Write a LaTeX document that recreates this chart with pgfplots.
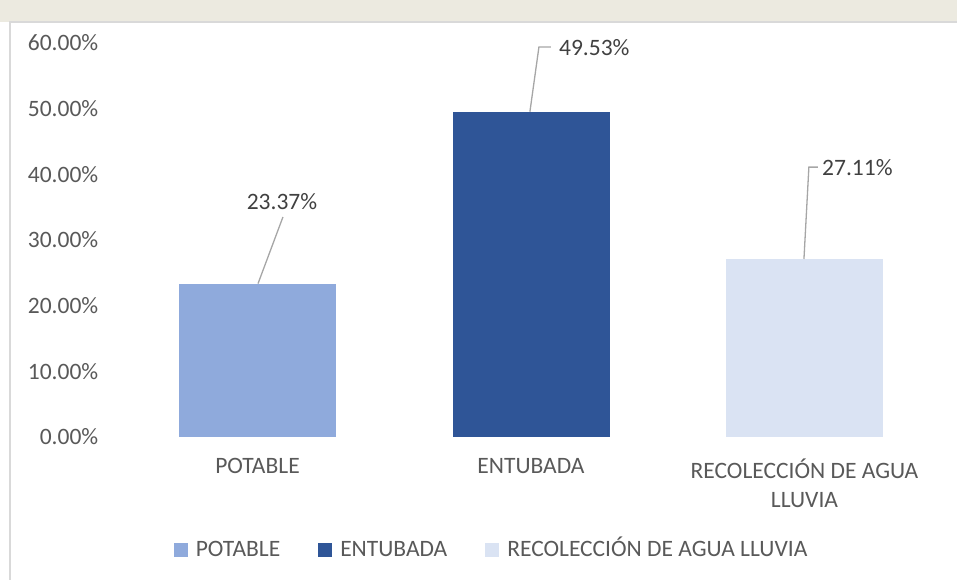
\documentclass[border=0pt]{standalone}
\usepackage{fontspec}
\setmainfont{Carlito}
\usepackage{pgfplots}
\pgfplotsset{compat=1.18}

\definecolor{potable}{HTML}{8FAADC}
\definecolor{entubada}{HTML}{2F5597}
\definecolor{recol}{HTML}{DAE3F3}
\definecolor{txt}{HTML}{595959}
\definecolor{lbltxt}{HTML}{404040}
\definecolor{leader}{HTML}{A6A6A6}
\definecolor{frame}{HTML}{D9D9D9}
\definecolor{strip}{HTML}{ECEAE0}
\newcommand{\chartfont}{\fontsize{23.5}{29}\selectfont}

\begin{document}
\begin{tikzpicture}
% faded banner above the chart area and the chart frame
\fill[strip] (0pt,558pt) rectangle (957pt,580pt);
\draw[frame, line width=1.5pt] (10pt,0pt) -- (10pt,558pt) -- (957pt,558pt);
\begin{axis}[
  at={(120.75pt,143pt)}, anchor=south west,
  scale only axis, width=820.5pt, height=394pt,
  xmin=-0.5, xmax=2.5, ymin=0, ymax=60,
  ybar, bar width=157pt, bar shift=0pt,
  axis line style={draw=none}, major tick length=0pt,
  xtick={0,1,2},
  xticklabels={POTABLE, ENTUBADA, {RECOLECCIÓN DE AGUA\\LLUVIA}},
  ytick={0,10,20,30,40,50,60},
  yticklabels={0.00\%,10.00\%,20.00\%,30.00\%,40.00\%,50.00\%,60.00\%},
  tick label style={font=\chartfont, text=txt},
  yticklabel style={xshift=-19pt},
  xticklabel style={align=center, yshift=-18pt},
  clip=false,
  legend columns=3,
  legend style={at={(0.452,-0.287)}, anchor=center, draw=none, fill=none,
    font=\chartfont, text=txt,
    nodes={text height=17pt, text depth=5pt},
    /tikz/every even column/.append style={column sep=36pt}},
  legend image code/.code={\fill[#1] (0pt,-7pt) rectangle (14pt,7pt); \path (20pt,0pt);},
]
\addplot[fill=potable, draw=none] coordinates {(0,23.37)};
\addplot[fill=entubada, draw=none] coordinates {(1,49.53)};
\addplot[fill=recol, draw=none] coordinates {(2,27.11)};
\legend{POTABLE, ENTUBADA, RECOLECCIÓN DE AGUA LLUVIA}

% data labels with leader lines
\draw[leader, line width=1.3pt] (axis cs:0.002,23.37) -- (axis cs:0.093,33.5);
\node[font=\chartfont, text=lbltxt] at (axis cs:0.0896,35.8) {23.37\%};
\draw[leader, line width=1.3pt] (axis cs:0.996,49.53) -- (axis cs:1.029,59.39) -- (axis cs:1.073,59.39);
\node[font=\chartfont, text=lbltxt, anchor=west, inner sep=0pt] at (axis cs:1.102,59.3) {49.53\%};
\draw[leader, line width=1.3pt] (axis cs:1.998,27.11) -- (axis cs:2.016,41.1) -- (axis cs:2.049,41.1);
\node[font=\chartfont, text=lbltxt, anchor=west, inner sep=0pt] at (axis cs:2.064,41.1) {27.11\%};
\end{axis}
\pgfresetboundingbox
\path[use as bounding box] (0pt,0pt) rectangle (957pt,580pt);
\end{tikzpicture}
\end{document}
